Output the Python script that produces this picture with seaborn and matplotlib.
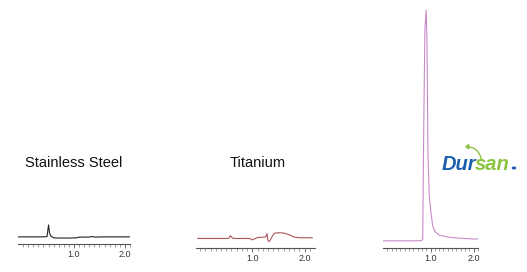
import matplotlib
matplotlib.use("Agg")
import matplotlib.pyplot as plt
import seaborn as sns
import pandas as pd
import numpy as np

sns.set_theme(style="white")
plt.rcParams['font.family'] = ['Liberation Sans', 'DejaVu Sans']

# Stainless steel trace (time, signal)
ss_time = [-0.1, 0.40, 0.47, 0.50, 0.52, 0.55, 0.60, 0.70, 0.90, 1.05, 1.10, 1.30, 1.35, 1.40, 1.60, 1.80, 2.00, 2.10]
ss_sig = [3.0, 3.0, 3.1, 8.0, 4.5, 3.3, 2.6, 2.5, 2.5, 2.6, 2.9, 2.9, 3.2, 2.9, 3.0, 3.0, 3.0, 3.0]

# Titanium trace
ti_time = [-0.05, 0.50, 0.55, 0.58, 0.62, 0.70, 0.95, 1.00, 1.05, 1.10, 1.25, 1.28, 1.30, 1.33, 1.37, 1.42, 1.50, 1.60, 1.70, 1.80, 1.90, 2.00, 2.15]
ti_sig = [4.0, 4.0, 4.1, 5.2, 4.1, 4.0, 4.0, 3.4, 3.9, 4.4, 4.6, 6.0, 3.0, 2.8, 4.5, 6.2, 6.4, 6.3, 5.6, 4.6, 4.3, 4.3, 4.3]

# Dursan trace
du_time = [-0.1, 0.60, 0.78, 0.82, 0.84, 0.87, 0.90, 0.92, 0.94, 0.97, 1.01, 1.05, 1.10, 1.20, 1.40, 1.60, 1.80, 2.00, 2.10]
du_sig = [3.0, 3.0, 3.1, 3.6, 45.0, 92.0, 100.0, 85.0, 41.0, 22.0, 15.0, 9.5, 7.0, 5.4, 4.6, 4.2, 4.0, 3.8, 3.8]

panels = [
    ("Stainless Steel", ss_time, ss_sig, "#222222", [18, 130, 244], (-0.1, 2.1)),
    ("Titanium", ti_time, ti_sig, "#a8555a", [196, 315, 248], (-0.08, 2.2)),
    ("Dursan", du_time, du_sig, "#c98acb", [383, 478, 248], (-0.1, 2.05)),
]

W, H = 527, 272
fig = plt.figure(figsize=(W / 100, H / 100), dpi=100)
px_per_unit = 2.38

for name, t, s, col, (x0, x1, yb), xl in panels:
    height_px = yb - 2
    ax = fig.add_axes([x0 / W, (H - yb) / H, (x1 - x0) / W, height_px / H])
    df = pd.DataFrame({"t": t, "s": s})
    sns.lineplot(data=df, x="t", y="s", ax=ax, color=col, lw=0.8, sort=False)
    ax.set_xlim(*xl)
    ax.set_ylim(0, height_px / px_per_unit)
    ax.set_facecolor("none")
    for sp in ["left", "right", "top"]:
        ax.spines[sp].set_visible(False)
    ax.spines["bottom"].set_color("#555555")
    ax.spines["bottom"].set_linewidth(0.8)
    ax.set_yticks([])
    ax.set_xticks([1.0, 2.0])
    ax.set_xticklabels(["1.0", "2.0"])
    ax.set_xticks(np.arange(0, 2.11, 0.1), minor=True)
    ax.tick_params(axis="x", which="major", direction="out", length=3, width=0.6,
                   colors="#555555", labelsize=6.5, pad=1.5, bottom=True, labelcolor="#333333")
    ax.tick_params(axis="x", which="minor", direction="out", length=2, width=0.5,
                   colors="#777777", bottom=True)
    ax.set_xlabel("")
    ax.set_ylabel("")

fig.text(74 / W, 1 - 163 / H, "Stainless Steel", ha="center", va="center", fontsize=10.5, color="#111111")
fig.text(258 / W, 1 - 163 / H, "Titanium", ha="center", va="center", fontsize=10.5, color="#111111")

# Dursan logo
fig.text(442 / W, 1 - 164 / H, "Dur", ha="left", va="center", fontsize=14.5, fontweight="bold",
         fontstyle="italic", color="#1d5fae", family=["Liberation Sans"])
fig.text(475 / W, 1 - 164 / H, "san", ha="left", va="center", fontsize=14.5, fontweight="bold",
         fontstyle="italic", color="#8cc440", family=["Liberation Sans"])
fig.patches.append(matplotlib.patches.Circle((514 / W, 1 - 168 / H), 1.6 / W,
                                             transform=fig.transFigure, color="#1d5fae"))
fig.patches.append(matplotlib.patches.FancyArrowPatch(
    (482 / W, 1 - 163 / H), (462 / W, 1 - 147 / H), transform=fig.transFigure,
    connectionstyle="arc3,rad=0.5", arrowstyle="-|>,head_length=2,head_width=1.5",
    color="#8cc440", lw=1.0))

fig.savefig("out.png", dpi=100, facecolor="white")
